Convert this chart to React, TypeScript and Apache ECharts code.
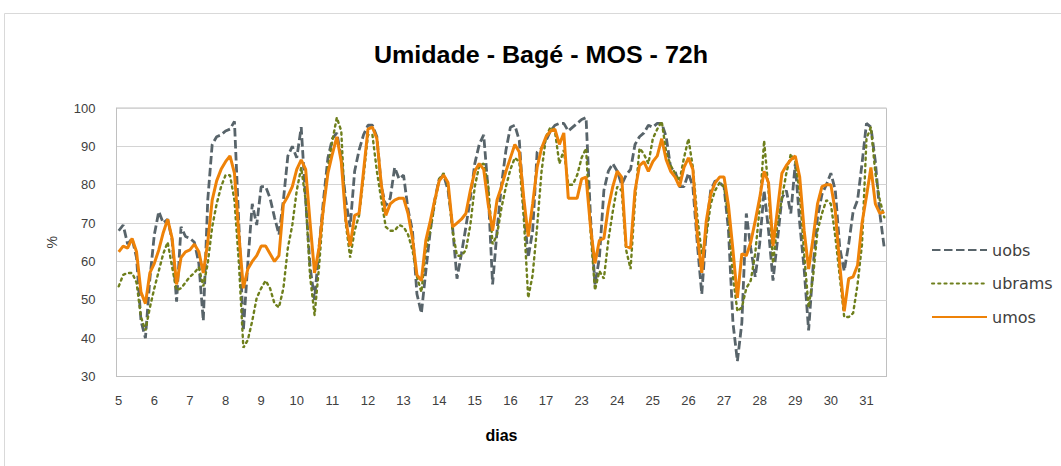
import React, { useEffect, useRef } from "react";
import * as echarts from "echarts";

const days = ["5", "6", "7", "8", "9", "10", "11", "12", "13", "14", "15", "16", "17", "23", "24", "25", "26", "27", "28", "29", "30", "31"];
const hours = ["00", "03", "06", "09", "12", "15", "18", "21"];

const uobs = [
  68, 69.5, 64.5, 66, 61, 44.5, 40, 55.5,
  67, 73, 70, 71, 65.5, 49.5, 69, 66.5,
  66, 65, 59.5, 44.5, 76, 90.5, 92.5, 93,
  94, 94.5, 96.5, 69.5, 42, 59.5, 75, 69.5,
  79.5, 79.5, 76.5, 71.5, 67, 76, 87.5, 90,
  87, 95, 76, 58.5, 50, 63.5, 76, 87,
  92, 93.5, 87, 76, 69, 83.5, 89, 93,
  95.5, 95.5, 92.5, 79.5, 74.5, 76.5, 84.5, 81.5,
  82.5, 73.5, 68, 51.5, 46.5, 57.5, 68, 76,
  81.5, 82.5, 78.5, 69, 55.5, 62, 69, 76.5,
  85.5, 90.5, 93, 78.5, 54, 68, 80, 89,
  95, 95.5, 91.5, 74, 61, 68, 88.5, 89.5,
  91.5, 94, 95.5, 96, 96, 94, 95, 96,
  97, 97.5, 71.5, 54, 61, 78.5, 83.5, 85.5,
  83.5, 80, 82.5, 84, 90.5, 92.5, 93.5, 95.5,
  95, 96, 96, 92.5, 84.5, 83.5, 79.5, 79.5,
  83, 79.5, 64.5, 51.5, 68, 78.5, 81, 80.5,
  79.5, 68, 44, 34, 44, 72.5, 63.5, 56,
  64.5, 78.5, 68, 55, 65.5, 76.5, 78.5, 72.5,
  85.5, 70, 58, 42, 58.5, 71.5, 77.5, 80,
  83, 78.5, 63.5, 57.5, 64.5, 73, 76, 85.5,
  96, 95, 86, 72.5, 63.5,
];

const ubrams = [
  53.5, 56.5, 57, 57, 54.5, 45.5, 42, 48,
  53, 57.5, 62, 65, 58.5, 52.5, 53, 54.5,
  56, 57, 58.5, 53.5, 59.5, 69, 75, 79.5,
  82.5, 82.5, 76, 59.5, 37.5, 39.5, 44.5, 50.5,
  53, 55, 53, 49, 48, 53, 63.5, 69.5,
  78.5, 84.5, 76, 56, 46, 58.5, 74, 84.5,
  91.5, 97.5, 94, 70, 61, 68, 72, 82,
  93, 93, 83.5, 76, 69, 68, 68, 69.5,
  69, 67, 63, 56, 52, 63, 68, 75,
  81.5, 83, 79.5, 68, 61.5, 61.5, 63, 69.5,
  79.5, 85, 85.5, 80, 64.5, 67, 74, 79.5,
  84, 87, 86, 71.5, 50.5, 56.5, 69, 83.5,
  92.5, 95, 94, 85.5, 89, 80, 80, 82.5,
  87, 89.5, 68, 52.5, 57.5, 55.5, 65.5, 73,
  79.5, 78.5, 63, 58, 76, 89.5, 88, 85.5,
  92, 94.5, 96.5, 88.5, 85, 83, 81, 87,
  92, 84.5, 71.5, 62, 66.5, 75, 78.5, 80.5,
  79.5, 71.5, 56, 47, 48, 53, 55, 62,
  74, 91.5, 78.5, 59.5, 70, 76.5, 83, 88,
  86, 78, 62, 48, 56, 68, 72.5, 76,
  75, 66.5, 56, 45.5, 45.5, 46.5, 54, 64.5,
  92, 95, 83, 76, 71.5,
];

const umos = [
  62.5, 64, 63.5, 66, 62.5, 52, 49, 57,
  59.5, 63, 67.5, 71, 66, 54, 61, 62.5,
  63, 64.5, 62.5, 57, 65, 76, 81, 84,
  86, 87.5, 83, 67, 53, 58, 60, 61.5,
  64, 64, 62, 60, 61.5, 75, 77, 79.5,
  84, 86.5, 84, 70, 57, 63.5, 74, 83,
  88, 92.5, 86, 71, 64, 72, 72.5, 83.5,
  94.5, 95, 92, 80, 72, 75, 76, 76.5,
  76.5, 72.5, 66, 56.5, 55, 65.5, 70.5, 76,
  81, 82.5, 80.5, 69, 70, 71, 72.5, 78.5,
  83.5, 85.5, 84, 75, 68, 76, 79.5, 83.5,
  87, 90.5, 88.5, 76.5, 66.5, 75, 84.5, 89.5,
  92.5, 94, 94.5, 90.5, 93.5, 76.5, 76.5, 76.5,
  81.5, 82, 69, 59.5, 65.5, 66, 74, 79.5,
  83.5, 82, 64, 63.5, 78.5, 85, 86, 83.5,
  86, 87.5, 92, 86.5, 83.5, 82, 79.5, 84.5,
  87, 84, 67, 57, 70.5, 77.5, 80.5, 82,
  82, 74.5, 63, 50.5, 62, 61.5, 65, 70.5,
  76.5, 83.5, 80.5, 64, 73.5, 83, 85, 86.5,
  87.5, 82, 68, 58, 66, 75, 79.5, 80,
  80, 73, 59, 47, 55.5, 56, 59, 70,
  77, 84.5, 75, 72.5, 73,
];

const categories = days
  .flatMap((d) => hours.map((h) => `${d} ${h}h`))
  .slice(0, umos.length);

export default function App() {
  const ref = useRef<HTMLDivElement>(null);
  useEffect(() => {
    if (!ref.current) return;
    const chart = echarts.init(ref.current, undefined, { renderer: "svg" });
    chart.setOption({
      animation: false,
      backgroundColor: "#ffffff",
      graphic: [
        {
          type: "rect",
          shape: { x: 4.5, y: 13.5, width: 1100, height: 500 },
          style: { fill: "none", stroke: "#d9d9d9", lineWidth: 1 },
          silent: true,
        },
        {
          type: "text",
          x: 541,
          y: 55,
          scaleX: 1.09,
          style: {
            text: "Umidade - Bagé - MOS - 72h",
            fontFamily: "Liberation Sans, Arial, sans-serif",
            fontWeight: "bold",
            fontSize: 23,
            fill: "#000000",
            textAlign: "center",
            textVerticalAlign: "middle",
          },
        },
      ],
      legend: {
        orient: "vertical",
        left: 926,
        top: 236,
        itemWidth: 55,
        itemHeight: 14,
        itemGap: 15.5,
        itemStyle: { opacity: 0 },
        textStyle: {
          fontFamily: "DejaVu Sans, Verdana, sans-serif",
          fontSize: 16,
          lineHeight: 18,
          color: "#404040",
        },
        data: ["uobs", "ubrams", "umos"],
      },
      grid: {
        left: 116.5,
        top: 108,
        width: 770,
        height: 268.5,
        show: true,
        borderColor: "#c0c0c0",
        borderWidth: 1,
      },
      xAxis: {
        type: "category",
        data: categories,
        boundaryGap: true,
        name: "dias",
        nameLocation: "middle",
        nameGap: 51,
        nameTextStyle: {
          fontFamily: "Liberation Sans, Arial, sans-serif",
          fontWeight: "bold",
          fontSize: 16,
          color: "#000000",
          verticalAlign: "top",
        },
        axisLine: { show: true, lineStyle: { color: "#c0c0c0", width: 1 } },
        axisTick: { show: false },
        splitLine: { show: false },
        axisLabel: {
          interval: (index: number) => index % 8 === 0,
          formatter: (v: string) => v.split(" ")[0],
          margin: 17,
          fontFamily: "Liberation Sans, Arial, sans-serif",
          fontSize: 13,
          color: "#404040",
        },
      },
      yAxis: {
        type: "value",
        min: 30,
        max: 100,
        interval: 10,
        name: "%",
        nameLocation: "middle",
        nameGap: 58,
        nameRotate: 90,
        nameTextStyle: {
          fontFamily: "Liberation Sans, Arial, sans-serif",
          fontSize: 14,
          color: "#404040",
        },
        axisLine: { show: true, lineStyle: { color: "#c0c0c0", width: 1 } },
        axisTick: { show: false },
        splitLine: { show: true, lineStyle: { color: "#d4d4d4", width: 1 } },
        axisLabel: {
          margin: 21,
          fontFamily: "Liberation Sans, Arial, sans-serif",
          fontSize: 13,
          color: "#404040",
        },
      },
      series: [
        {
          name: "uobs",
          type: "line",
          data: uobs,
          symbol: "none",
          z: 2,
          lineStyle: { color: "#58646a", width: 2.8, type: [8.5, 3.5] },
          itemStyle: { color: "#58646a" },
        },
        {
          name: "ubrams",
          type: "line",
          data: ubrams,
          symbol: "none",
          z: 3,
          lineStyle: { color: "#6e7f1c", width: 2.4, type: [2.2, 4], cap: "round" },
          itemStyle: { color: "#6e7f1c" },
        },
        {
          name: "umos",
          type: "line",
          data: umos,
          symbol: "none",
          z: 4,
          lineStyle: { color: "#ee8208", width: 3 },
          itemStyle: { color: "#ee8208" },
        },
      ],
    });
    return () => chart.dispose();
  }, []);
  return (
    <div
      ref={ref}
      style={{ position: "fixed", left: 0, top: 0, width: 1061, height: 466 }}
    />
  );
}
